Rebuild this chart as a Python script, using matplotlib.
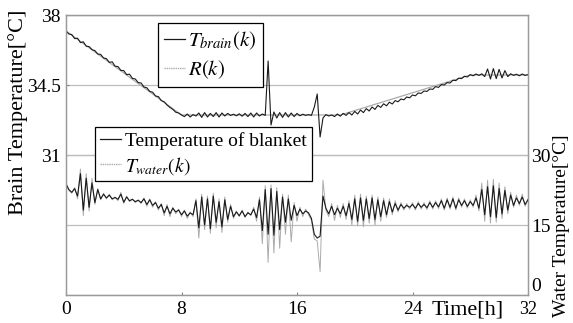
import numpy as np
import matplotlib
matplotlib.use("Agg")
import matplotlib.pyplot as plt
from matplotlib.lines import Line2D

plt.rcParams["font.family"] = ["Liberation Serif", "DejaVu Serif"]
plt.rcParams["mathtext.fontset"] = "stix"

# Brain temperature T_brain(k), sampled every 0.2 h from 0 to 32 h
brain = [
    37.20, 37.05, 37.02, 36.82, 36.84, 36.62, 36.66, 36.44, 36.42, 36.27,
    36.22, 36.05, 36.03, 35.85, 35.82, 35.63, 35.66, 35.44, 35.42, 35.23,
    35.22, 35.02, 35.04, 34.83, 34.80, 34.62, 34.60, 34.40, 34.36, 34.18,
    34.14, 33.95, 33.92, 33.72, 33.66, 33.50, 33.38, 33.28, 33.14, 33.10,
    33.00, 32.92, 33.05, 32.90, 33.02, 32.95, 33.10, 32.88, 33.12, 32.90,
    33.08, 32.92, 33.12, 32.90, 33.10, 32.95, 33.08, 32.98, 33.04, 32.96,
    33.06, 32.94, 33.08, 32.92, 33.10, 32.90, 33.10, 32.95, 33.05, 32.98,
    35.70, 32.50, 33.15, 32.85, 33.12, 32.88, 33.12, 32.90, 33.10, 32.92,
    33.08, 32.96, 33.04, 32.98, 33.02, 32.98, 33.40, 34.05, 31.90, 32.85,
    33.02, 32.95, 33.00, 32.92, 33.05, 32.94, 33.08, 32.98, 33.12, 33.00,
    33.18, 33.05, 33.25, 33.12, 33.32, 33.20, 33.40, 33.28, 33.48, 33.38,
    33.56, 33.46, 33.64, 33.55, 33.72, 33.66, 33.80, 33.76, 33.90, 33.86,
    34.00, 33.96, 34.10, 34.08, 34.20, 34.18, 34.30, 34.28, 34.42, 34.38,
    34.52, 34.50, 34.62, 34.60, 34.74, 34.72, 34.84, 34.82, 34.94, 34.90,
    35.02, 34.96, 35.05, 34.98, 35.06, 34.92, 35.30, 34.80, 35.32, 34.82,
    35.28, 34.85, 35.22, 34.92, 35.06, 34.98, 35.04, 34.96, 35.05, 34.98,
    35.02,
]

# Reference trajectory R(k)
ref_time = [0, 8, 19, 28, 32]
ref_vals = [37.2, 33.0, 33.0, 35.0, 35.0]

# Temperature of blanket, every 0.2 h
blanket = [
    23.8, 22.6, 22.0, 22.8, 21.2, 26.0, 18.2, 25.0, 18.8, 24.0,
    19.8, 22.6, 20.6, 21.6, 20.8, 21.4, 20.6, 20.9, 20.5, 21.6,
    19.9, 21.0, 20.2, 20.5, 20.0, 20.3, 19.8, 20.6, 19.4, 20.4,
    19.2, 19.8, 18.6, 19.4, 17.6, 19.0, 17.4, 18.6, 17.8, 18.2,
    17.2, 18.0, 16.9, 17.6, 17.2, 20.2, 14.4, 21.0, 15.0, 20.6,
    14.2, 21.2, 15.6, 20.0, 14.6, 20.4, 16.2, 19.0, 16.8, 17.8,
    17.0, 18.0, 16.8, 17.6, 17.2, 18.4, 16.6, 20.4, 13.8, 22.6,
    13.0, 22.8, 12.8, 22.2, 14.0, 21.0, 15.6, 20.6, 16.0, 19.2,
    17.0, 18.4, 17.4, 18.0, 17.6, 16.4, 13.0, 12.2, 12.6, 21.2,
    18.6, 17.4, 19.0, 17.2, 18.6, 17.4, 19.0, 17.0, 19.6, 16.2,
    20.6, 15.8, 20.8, 16.0, 20.6, 16.4, 20.8, 16.2, 20.4, 16.8,
    20.2, 17.2, 20.0, 17.8, 19.6, 18.2, 19.4, 18.6, 19.2, 18.8,
    19.4, 18.6, 19.6, 18.8, 19.4, 18.7, 19.8, 18.8, 19.8, 18.9,
    20.2, 18.6, 20.4, 18.8, 20.6, 18.6, 20.4, 19.2, 20.2, 19.0,
    20.0, 19.2, 20.8, 18.6, 22.6, 17.2, 23.2, 16.8, 23.4, 16.6,
    22.8, 17.4, 22.4, 18.2, 21.4, 19.2, 20.8, 19.6, 21.0, 19.4,
    20.4,
]

# Water temperature T_water(k), every 0.2 h
water = [
    23.8, 22.4, 21.8, 23.0, 20.6, 27.0, 17.0, 26.0, 18.0, 25.0,
    19.4, 22.8, 20.4, 21.8, 20.6, 21.6, 20.4, 21.0, 20.2, 22.0,
    19.6, 21.2, 20.0, 20.6, 19.8, 20.4, 19.6, 20.8, 19.0, 20.6,
    18.8, 20.0, 18.2, 19.6, 17.0, 19.4, 16.8, 18.8, 17.4, 18.4,
    16.8, 18.2, 16.4, 17.8, 16.8, 20.6, 12.2, 21.6, 14.0, 21.2,
    13.2, 21.8, 14.4, 20.6, 13.4, 21.0, 15.6, 19.4, 16.4, 18.0,
    16.8, 18.2, 16.6, 17.8, 17.0, 18.8, 15.8, 21.0, 11.0, 23.4,
    7.0, 23.6, 9.0, 23.0, 10.0, 21.6, 13.0, 21.4, 11.4, 19.8,
    15.8, 18.8, 16.8, 18.4, 17.2, 16.0, 12.0, 11.6, 5.0, 24.6,
    18.2, 16.8, 19.6, 16.0, 19.2, 16.6, 19.6, 16.2, 20.2, 15.0,
    21.4, 14.8, 21.6, 14.6, 21.2, 15.4, 21.4, 15.0, 21.0, 15.8,
    20.8, 16.6, 20.6, 17.2, 20.2, 17.8, 19.8, 18.2, 19.6, 18.4,
    19.8, 18.2, 20.0, 18.4, 19.8, 18.3, 20.2, 18.4, 20.2, 18.5,
    20.6, 18.2, 20.8, 18.4, 21.0, 18.2, 20.8, 18.8, 20.6, 18.6,
    20.4, 18.8, 21.4, 18.0, 24.0, 15.8, 24.6, 15.4, 24.8, 15.6,
    24.0, 16.4, 23.2, 17.4, 22.0, 18.8, 21.4, 19.2, 21.6, 19.0,
    20.6,
]

time = np.linspace(0, 32, len(brain))

dark = "#1a1a1a"
light = "#ababab"

fig = plt.figure(figsize=(5.73, 3.23), dpi=100)
ax = fig.add_axes([66 / 573, 1 - 295 / 323, 462 / 573, 280 / 323])
ax2 = ax.twinx()

ax.plot(ref_time, ref_vals, color=light, lw=0.9)
ax.plot(time, brain, color=dark, lw=0.8)
ax2.plot(time, water, color=light, lw=0.7)
ax2.plot(time, blanket, color=dark, lw=0.8)

ax.set_xlim(0, 32)
ax.set_ylim(24, 38)
ax2.set_ylim(0, 60)
ax.set_xticks([0, 8, 16, 24, 32])
ax.set_yticks([31, 34.5, 38])
ax.set_yticklabels(["31", "34.5", "38"])
ax2.set_yticks([0, 15, 30])

ax.grid(axis="y", color="#bdbdbd", lw=0.9)
ax2.grid(axis="y", color="#bdbdbd", lw=0.9)
ax.set_axisbelow(True)

for a in (ax, ax2):
    for s in a.spines.values():
        s.set_color("#9a9a9a")
        s.set_linewidth(0.9)
ax.tick_params(axis="both", direction="in", length=2, labelsize=14, pad=4, color="#888888")
ax2.tick_params(axis="y", direction="in", length=0, labelsize=14, pad=2)
# the "0" on the right axis sits just above the corner, the "32" a bit smaller
ax2.yaxis.get_major_ticks()[0].label2.set_va("bottom")
ax.xaxis.get_major_ticks()[-1].label1.set_fontsize(13)

fig.text(18 / 573, 1 - 112 / 323, "Brain Temperature[\u00b0C]", rotation=90,
         ha="center", va="center", fontsize=16)
fig.text(561 / 573, 1 - 226 / 323, "Water Temperature[\u00b0C]", rotation=90,
         ha="center", va="center", fontsize=14)
ax.text(0.87, -0.055, "Time[h]", transform=ax.transAxes, ha="center", va="center",
        fontsize=16)

sample = dict(color=light, lw=1.0, ls=(0, (1, 0.6)))
h1 = [Line2D([], [], color=dark, lw=0.9), Line2D([], [], **sample)]
leg1 = ax2.legend(h1, [r"$T_{brain}\left(k\right)$", r"$R\left(k\right)$"],
                  loc="upper left", bbox_to_anchor=(0.199, 0.972), borderaxespad=0,
                  fontsize=15, fancybox=False, edgecolor="black", framealpha=1,
                  handlelength=1.0, handletextpad=0.15, borderpad=0.3, labelspacing=0.3)
leg1.get_frame().set_linewidth(0.9)
ax2.add_artist(leg1)

h2 = [Line2D([], [], color=dark, lw=0.9), Line2D([], [], **sample)]
leg2 = ax2.legend(h2, ["Temperature of blanket", r"$T_{water}\left(k\right)$"],
                  loc="upper left", bbox_to_anchor=(0.063, 0.6), borderaxespad=0,
                  fontsize=14, fancybox=False, edgecolor="black", framealpha=1,
                  handlelength=1.1, handletextpad=0.2, borderpad=0.25, labelspacing=0.25)
leg2.get_frame().set_linewidth(0.9)

fig.savefig("out.png", dpi=100)
